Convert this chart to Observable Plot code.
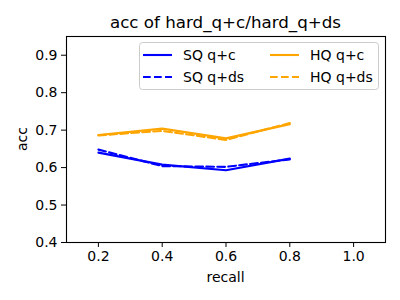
<!DOCTYPE html>
<html>
<head>
<meta charset="utf-8">
<script src="https://cdn.jsdelivr.net/npm/d3@7"></script>
<script src="https://cdn.jsdelivr.net/npm/@observablehq/plot@0.6"></script>
<style>
  html, body { margin: 0; padding: 0; background: white; }
</style>
</head>
<body>
<div id="chart"></div>
<script>
const recall = [0.2, 0.4, 0.6, 0.8];
const sqQc  = [0.640, 0.608, 0.593, 0.624];
const sqQds = [0.648, 0.604, 0.602, 0.622];
const hqQc  = [0.687, 0.704, 0.678, 0.716];
const hqQds = [0.686, 0.698, 0.674, 0.719];
const xTicks = [0.2, 0.4, 0.6, 0.8, 1.0];
const yTicks = [0.4, 0.5, 0.6, 0.7, 0.8, 0.9];
const seriesNames = ["SQ q+c", "SQ q+ds", "HQ q+c", "HQ q+ds"];
const seriesValues = [sqQc, sqQds, hqQc, hqQds];
const seriesColors = ["blue", "blue", "orange", "orange"];
const seriesDashed = [false, true, false, true];
const titleText = "acc of hard_q+c/hard_q+ds";
const xLabel = "recall";
const yLabel = "acc";

const font = "DejaVu Sans";
const W = 400, H = 300;
const mL = 66, mR = 15, mT = 36, mB = 58;

const lineMarks = seriesNames.map((name, i) => Plot.line(
  recall.map((r, j) => ({x: r, y: seriesValues[i][j]})),
  {x: "x", y: "y", stroke: seriesColors[i], strokeWidth: 2.1,
   strokeDasharray: seriesDashed[i] ? "7.7,3.3" : null}
));

const chart = Plot.plot({
  width: W, height: H,
  marginLeft: mL, marginRight: mR, marginTop: mT, marginBottom: mB,
  style: {fontFamily: font, fontSize: "14px", color: "black", background: "white"},
  x: {domain: [0.1, 1.1]},
  y: {domain: [0.4, 0.95]},
  marks: [
    ...lineMarks,
    Plot.frame({stroke: "black", strokeWidth: 1.1}),
    Plot.axisX({ticks: xTicks, tickFormat: d3.format(".1f"), tickSize: 5, tickPadding: 4, label: null, fontSize: 14}),
    Plot.axisY({ticks: yTicks, tickFormat: d3.format(".1f"), tickSize: 5, tickPadding: 4, label: null, fontSize: 14})
  ]
});
document.getElementById("chart").appendChild(chart);

const svg = d3.select(chart);
const cx = mL + (W - mL - mR) / 2;
svg.append("text").attr("x", cx).attr("y", 28).attr("text-anchor", "middle")
  .attr("font-family", font).attr("font-size", 16.7).attr("fill", "black").text(titleText);
svg.append("text").attr("x", cx).attr("y", 282).attr("text-anchor", "middle")
  .attr("font-family", font).attr("font-size", 14).attr("fill", "black").text(xLabel);
svg.append("text").attr("transform", `translate(27,${mT + (H - mT - mB) / 2}) rotate(-90)`)
  .attr("text-anchor", "middle").attr("font-family", font).attr("font-size", 14)
  .attr("fill", "black").text(yLabel);

// legend
const lg = svg.append("g").attr("text-anchor", "start");
lg.append("rect").attr("x", 139.5).attr("y", 42.5).attr("width", 239).attr("height", 47)
  .attr("rx", 3).attr("fill", "white").attr("fill-opacity", 0.8)
  .attr("stroke", "#cccccc").attr("stroke-width", 1);
const cols = [143, 270];
const rows = [55, 77];
seriesNames.forEach((name, i) => {
  const c = Math.floor(i / 2), r = i % 2;
  const x0 = cols[c], y0 = rows[r];
  lg.append("line").attr("x1", x0).attr("x2", x0 + 29).attr("y1", y0).attr("y2", y0)
    .attr("stroke", seriesColors[i]).attr("stroke-width", 2.1)
    .attr("stroke-dasharray", seriesDashed[i] ? "7.7,3.3" : null);
  lg.append("text").attr("x", x0 + 40).attr("y", y0 + 5).attr("text-anchor", "start")
    .attr("font-family", font).attr("font-size", 14).attr("fill", "black").text(name);
});
</script>
</body>
</html>
